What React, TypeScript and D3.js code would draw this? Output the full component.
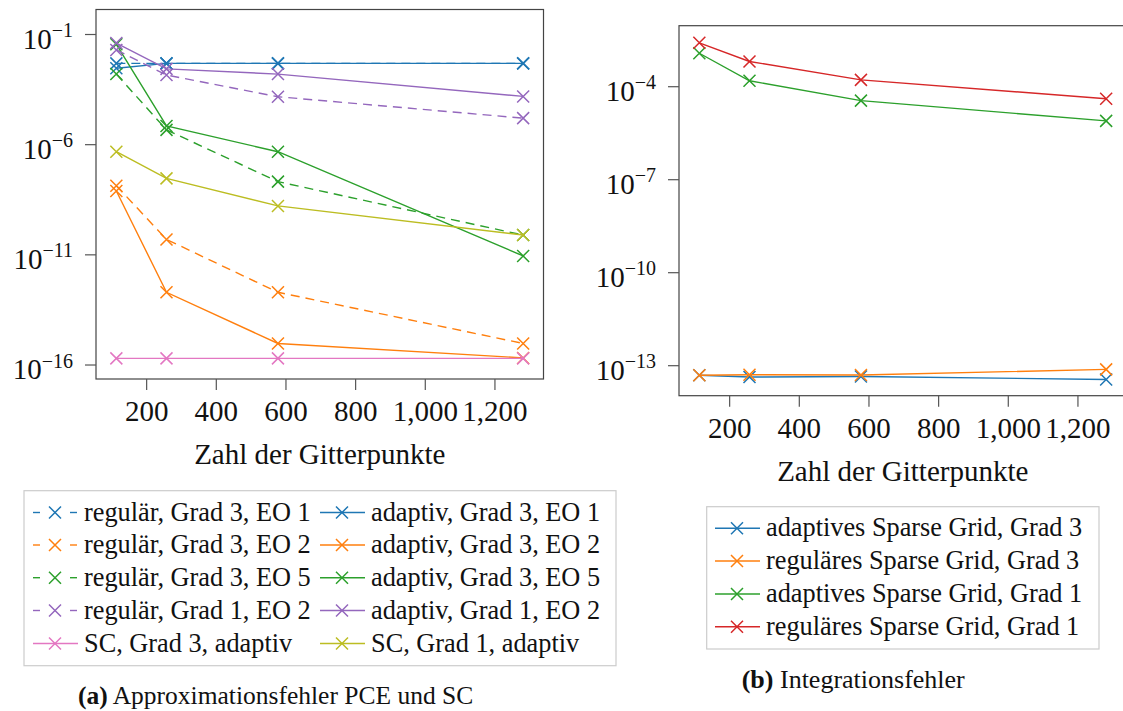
import React from "react";
import * as d3 from "d3";

// Number of grid points (shared by every series)
const gridPoints = [113, 257, 577, 1281];
const xTicks = [200, 400, 600, 800, 1000, 1200];

// (a) approximation error PCE and SC
const regG3EO1 = [4.9e-3, 4.9e-3, 4.9e-3, 4.9e-3];
const adaG3EO1 = [2.95e-3, 4.9e-3, 4.9e-3, 4.9e-3];
const regG3EO2 = [1.38e-8, 5.0e-11, 2.0e-13, 9.5e-16];
const adaG3EO2 = [7.9e-9, 2.0e-13, 9.5e-16, 2.1e-16];
const regG3EO5 = [1.6e-3, 4.7e-6, 2.1e-8, 7.9e-11];
const adaG3EO5 = [3.6e-2, 7.1e-6, 4.8e-7, 8.9e-12];
const regG1EO2 = [2.0e-2, 1.45e-3, 1.5e-4, 1.6e-5];
const adaG1EO2 = [4.1e-2, 2.75e-3, 1.6e-3, 1.55e-4];
const scG3 = [2.0e-16, 2.0e-16, 2.0e-16, 2.0e-16];
const scG1 = [4.8e-7, 2.95e-8, 1.66e-9, 7.9e-11];
const leftYTicks = [1e-1, 1e-6, 1e-11, 1e-16];

// (b) integration error
const adaSG3 = [4.9e-14, 4.3e-14, 4.5e-14, 3.6e-14];
const regSG3 = [4.9e-14, 5.1e-14, 5.0e-14, 7.6e-14];
const adaSG1 = [1.2e-3, 1.55e-4, 3.55e-5, 7.9e-6];
const regSG1 = [2.6e-3, 6.5e-4, 1.66e-4, 4.1e-5];
const rightYTicks = [1e-4, 1e-7, 1e-10, 1e-13];

const C = {
  blue: "#1f77b4",
  orange: "#ff7f0e",
  green: "#2ca02c",
  red: "#d62728",
  purple: "#9467bd",
  pink: "#e377c2",
  olive: "#bcbd22",
};

type Series = { label: string; values: number[]; color: string; dashed: boolean };

const leftSeries: Series[] = [
  { label: "regulär, Grad 3, EO 1", values: regG3EO1, color: C.blue, dashed: true },
  { label: "adaptiv, Grad 3, EO 1", values: adaG3EO1, color: C.blue, dashed: false },
  { label: "regulär, Grad 3, EO 2", values: regG3EO2, color: C.orange, dashed: true },
  { label: "adaptiv, Grad 3, EO 2", values: adaG3EO2, color: C.orange, dashed: false },
  { label: "regulär, Grad 3, EO 5", values: regG3EO5, color: C.green, dashed: true },
  { label: "adaptiv, Grad 3, EO 5", values: adaG3EO5, color: C.green, dashed: false },
  { label: "regulär, Grad 1, EO 2", values: regG1EO2, color: C.purple, dashed: true },
  { label: "adaptiv, Grad 1, EO 2", values: adaG1EO2, color: C.purple, dashed: false },
  { label: "SC, Grad 3, adaptiv", values: scG3, color: C.pink, dashed: false },
  { label: "SC, Grad 1, adaptiv", values: scG1, color: C.olive, dashed: false },
];

const rightSeries: Series[] = [
  { label: "adaptives Sparse Grid, Grad 3", values: adaSG3, color: C.blue, dashed: false },
  { label: "reguläres Sparse Grid, Grad 3", values: regSG3, color: C.orange, dashed: false },
  { label: "adaptives Sparse Grid, Grad 1", values: adaSG1, color: C.green, dashed: false },
  { label: "reguläres Sparse Grid, Grad 1", values: regSG1, color: C.red, dashed: false },
];

const FONT = "'Liberation Serif', 'DejaVu Serif', serif";
const DASH = "9,6";
const M = 6; // half size of the cross marker
const TICK_FS = 29;
const LEGEND_FS = 26.3;

const Cross = ({ x, y, color }: { x: number; y: number; color: string }) => (
  <path
    d={`M${x - M},${y - M}L${x + M},${y + M}M${x - M},${y + M}L${x + M},${y - M}`}
    stroke={color}
    strokeWidth={1.5}
    fill="none"
  />
);

const fmtX = d3.format(",");

type PanelProps = {
  left: number;
  top: number;
  width: number;
  height: number;
  xDomain: [number, number];
  yDomain: [number, number];
  yTicks: number[];
  series: Series[];
};

function Panel({ left, top, width, height, xDomain, yDomain, yTicks, series }: PanelProps) {
  const x = d3.scaleLinear().domain(xDomain).range([left, left + width]);
  const y = d3.scaleLog().domain(yDomain).range([top + height, top]);
  const line = d3
    .line<number>()
    .x((_, i) => x(gridPoints[i]))
    .y((v) => y(v));
  const bottom = top + height;
  return (
    <g>
      <defs>
        <clipPath id={`clip-${left}`}>
          <rect x={left} y={top} width={width} height={height} />
        </clipPath>
      </defs>
      <g clipPath={`url(#clip-${left})`}>
        {series.map((s) => (
          <g key={s.label}>
            <path
              d={line(s.values) || ""}
              fill="none"
              stroke={s.color}
              strokeWidth={1.4}
              strokeDasharray={s.dashed ? DASH : undefined}
            />
            {s.values.map((v, i) => (
              <Cross key={i} x={x(gridPoints[i])} y={y(v)} color={s.color} />
            ))}
          </g>
        ))}
      </g>
      <rect x={left} y={top} width={width} height={height} fill="none" stroke="#444" strokeWidth={1.2} />
      {xTicks.map((t) => (
        <g key={t}>
          <line x1={x(t)} x2={x(t)} y1={bottom} y2={bottom + 11} stroke="#555" strokeWidth={1.2} />
          <text x={x(t)} y={bottom + 42} textAnchor="middle" fontSize={TICK_FS} fontFamily={FONT} fill="#111">
            {fmtX(t)}
          </text>
        </g>
      ))}
      {yTicks.map((t) => {
        const exp = Math.round(Math.log10(t));
        return (
          <g key={t}>
            <line x1={left - 11} x2={left} y1={y(t)} y2={y(t)} stroke="#555" strokeWidth={1.2} />
            <text x={left - 23} y={y(t) + 14} textAnchor="end" fontSize={TICK_FS} fontFamily={FONT} fill="#111">
              10
              <tspan dy={-11.5} fontSize={20}>
                {`\u2212${Math.abs(exp)}`}
              </tspan>
            </text>
          </g>
        );
      })}
      <text
        x={left + width / 2}
        y={bottom + 85}
        textAnchor="middle"
        fontSize={29}
        fontFamily={FONT}
        fill="#111"
      >
        Zahl der Gitterpunkte
      </text>
    </g>
  );
}

type LegendItem = { series: Series; x: number; y: number };

function LegendEntry({ series, x, y }: LegendItem) {
  const cx = x + 22;
  const sample = series.dashed ? (
    <g stroke={series.color} strokeWidth={1.4}>
      <line x1={x} x2={x + 7} y1={y} y2={y} />
      <line x1={x + 37} x2={x + 44} y1={y} y2={y} />
    </g>
  ) : (
    <line x1={x} x2={x + 45} y1={y} y2={y} stroke={series.color} strokeWidth={1.4} />
  );
  return (
    <g>
      {sample}
      <Cross x={cx} y={y} color={series.color} />
      <text x={x + 51} y={y + 8} fontSize={LEGEND_FS} fontFamily={FONT} fill="#111">
        {series.label}
      </text>
    </g>
  );
}

export default function App() {
  const xDomain: [number, number] = [54.6, 1339.4];
  const leftRowY = [512.5, 545, 577.7, 610.5, 643.5];
  const rightRowY = [528.3, 561, 594, 626.7];
  return (
    <svg
      width={1123}
      height={711}
      viewBox="0 0 1123 711"
      style={{ position: "absolute", left: 0, top: 0, background: "#fff" }}
    >
      <Panel
        left={96}
        top={9.5}
        width={447.5}
        height={369.5}
        xDomain={xDomain}
        yDomain={[Math.pow(10, -16.635), Math.pow(10, 0.135)]}
        yTicks={leftYTicks}
        series={leftSeries}
      />
      <Panel
        left={679}
        top={25.7}
        width={447.5}
        height={370}
        xDomain={xDomain}
        yDomain={[Math.pow(10, -13.968), Math.pow(10, -2.032)]}
        yTicks={rightYTicks}
        series={rightSeries}
      />

      {/* legend (a): two columns, regular left, adaptive right */}
      <rect x={24} y={490.7} width={592} height={175} fill="#fff" stroke="#ccc" strokeWidth={1.2} />
      {leftSeries.map((s, i) => (
        <LegendEntry
          key={s.label}
          series={s}
          x={i % 2 === 0 ? 33 : 320}
          y={leftRowY[Math.floor(i / 2)]}
        />
      ))}
      <text x={78} y={704} fontSize={25.5} fontFamily={FONT} fill="#111">
        <tspan fontWeight="bold">(a)</tspan> Approximationsfehler PCE und SC
      </text>

      {/* legend (b) */}
      <rect x={706.7} y={506.7} width={392.3} height={142.3} fill="#fff" stroke="#ccc" strokeWidth={1.2} />
      {rightSeries.map((s, i) => (
        <LegendEntry key={s.label} series={s} x={715} y={rightRowY[i]} />
      ))}
      <text x={741.7} y={688} fontSize={26} fontFamily={FONT} fill="#111">
        <tspan fontWeight="bold">(b)</tspan> Integrationsfehler
      </text>
    </svg>
  );
}
